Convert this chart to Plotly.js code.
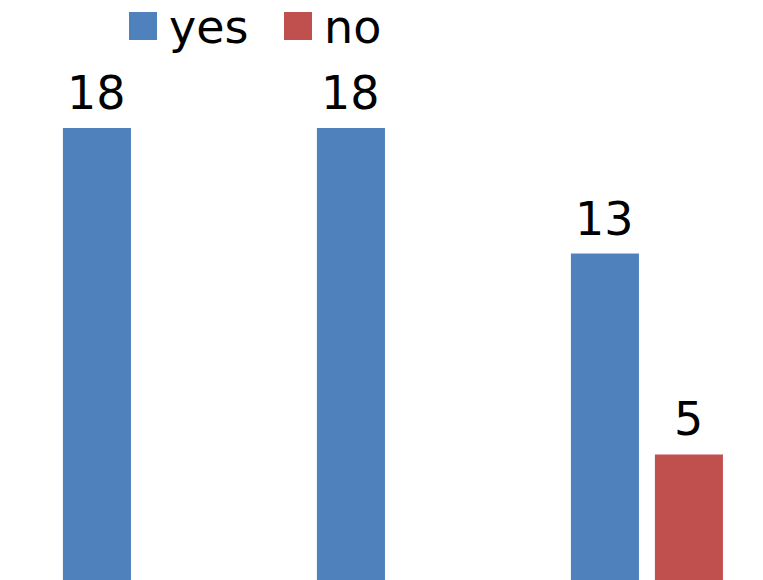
<!DOCTYPE html>
<html>
<head>
<meta charset="utf-8">
<script src="https://cdn.plot.ly/plotly-3.0.1.min.js"></script>
<style>html,body{margin:0;padding:0;background:#fff;}#chart{width:763px;height:580px;}</style>
</head>
<body>
<div id="chart"></div>
<script>
var categories = ['A', 'B', 'C'];
var yesValues = [18, 18, 13];
var noValues = [null, null, 5];
var seriesNames = ['yes', 'no'];
var seriesColors = ['#4F81BD', '#C0504D'];

var seriesValues = [yesValues, noValues];

var traces = seriesValues.map(function (vals, i) {
  return { type: 'bar', name: seriesNames[i], x: categories, y: vals,
    marker: { color: seriesColors[i] }, hoverinfo: 'none', showlegend: false };
});

var W = 763, H = 580;
function px(x) { return x / W; }
function py(y) { return 1 - y / H; }

var font = { family: 'DejaVu Sans', size: 46, color: '#000' };
var legendX = [129, 284];
var shapes = [], annotations = [];
seriesNames.forEach(function (n, i) {
  shapes.push({ type: 'rect', xref: 'paper', yref: 'paper', x0: px(legendX[i]), x1: px(legendX[i] + 28),
    y0: py(40), y1: py(12), fillcolor: seriesColors[i], line: { width: 0 } });
  annotations.push({ xref: 'paper', yref: 'paper', x: px(legendX[i] + 38), y: py(27), xanchor: 'left', yanchor: 'middle',
    text: n, showarrow: false, font: font });
});

// value labels above bars
var groupOffset = [-42, 42];
seriesValues.forEach(function (vals, i) {
  vals.forEach(function (v, j) {
    if (v == null) return;
    annotations.push({ xref: 'x', yref: 'y', x: categories[j], y: v, xanchor: 'center', yanchor: 'bottom',
      xshift: groupOffset[i], yshift: 6, text: String(v), showarrow: false, font: font });
  });
});

var layout = {
  width: W, height: H,
  margin: { l: 0, r: 0, t: 0, b: 0 },
  paper_bgcolor: '#fff', plot_bgcolor: '#fff',
  barmode: 'group', bargap: 0.3386, bargroupgap: 0.19,
  showlegend: false,
  xaxis: { type: 'category', range: [-0.547, 2.457], visible: false, fixedrange: true },
  yaxis: { range: [0, 23.1], visible: false, fixedrange: true },
  shapes: shapes, annotations: annotations
};

Plotly.newPlot('chart', traces, layout, { displayModeBar: false, staticPlot: true });
</script>
</body>
</html>
